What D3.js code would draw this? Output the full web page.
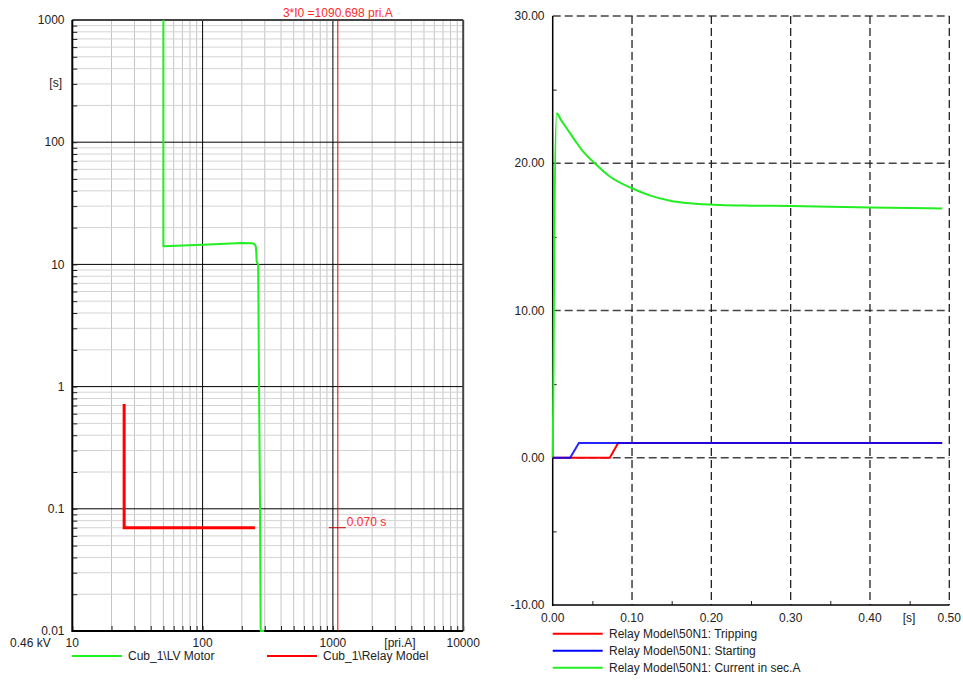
<!DOCTYPE html>
<html><head><meta charset="utf-8">
<script src="https://cdn.jsdelivr.net/npm/d3@7"></script>
<style>
body{margin:0;background:#fff}
text{font-family:"Liberation Sans",Arial,sans-serif;font-size:12px;fill:#222}
</style>
</head><body>
<svg id="c" width="963" height="682"></svg>
<script>
// ---------- Left chart data (time-overcurrent, log-log) ----------
const leftXTicks = [10, 100, 1000, 10000];
const leftXTickLabels = ["10", "100", "1000", "10000"];
const leftYTicks = [0.01, 0.1, 1, 10, 100, 1000];
const leftYTickLabels = ["0.01", "0.1", "1", "10", "100", "1000"];
const motorCurrent = [50, 50, 100, 200, 240, 252, 256, 258, 260, 267, 271, 276, 279, 297];
const motorTime    = [1000, 14.1, 14.5, 15.0, 14.9, 14.6, 14.0, 12.8, 10.5, 10, 1, 0.1, 0.01, 0.01];
const relayCurrent = [25, 25, 252];
const relayTime    = [0.72, 0.07, 0.07];
const markerCurrent = 1090.698;
const markerTime = 0.070;
const leftLegend = ["Cub_1\\LV Motor", "Cub_1\\Relay Model"];

// ---------- Right chart data (time domain) ----------
const rightXTicks = [0, 0.1, 0.2, 0.3, 0.4, 0.5];
const rightYTicks = [-10, 0, 10, 20, 30];
const currentT = [0, 0.001, 0.002, 0.005, 0.01, 0.015, 0.022, 0.03, 0.039, 0.053, 0.072, 0.1, 0.123, 0.148, 0.173, 0.211, 0.25, 0.3, 0.35, 0.4, 0.45, 0.491];
const currentV = [0, 6, 15, 23.4, 22.98, 22.58, 22.03, 21.4, 20.75, 20.0, 19.1, 18.3, 17.8, 17.46, 17.28, 17.16, 17.12, 17.1, 17.05, 17.0, 16.96, 16.92];
const startT = [0, 0.022, 0.033, 0.491];
const startV = [0, 0, 1, 1];
const tripT = [0, 0.072, 0.0825, 0.491];
const tripV = [0, 0, 1, 1];
const rightLegend = ["Relay Model\\50N1: Tripping", "Relay Model\\50N1: Starting", "Relay Model\\50N1: Current in sec.A"];

const svg = d3.select("#c");

// ================= LEFT =================
const L = {x0: 72.3, x1: 463.2, y0: 631, y1: 20};
const lx = d3.scaleLog().domain([10, 10000]).range([L.x0, L.x1]);
const ly = d3.scaleLog().domain([0.01, 1000]).range([L.y0, L.y1]);
const gl = svg.append("g");

const minorX = [], minorY = [];
for (let d = 10; d < 10000; d *= 10) for (let k = 2; k <= 9; k++) minorX.push(d * k);
for (let d = 0.01; d < 999; d *= 10) for (let k = 2; k <= 9; k++) minorY.push(+(d * k).toPrecision(3));

gl.selectAll(".mx").data(minorX).join("line")
  .attr("x1", d => lx(d)).attr("x2", d => lx(d)).attr("y1", L.y1).attr("y2", L.y0)
  .attr("stroke", "#c4c4c4").attr("stroke-width", 1);
gl.selectAll(".my").data(minorY).join("line")
  .attr("y1", d => ly(d)).attr("y2", d => ly(d)).attr("x1", L.x0).attr("x2", L.x1)
  .attr("stroke", "#d4d4d4").attr("stroke-width", 1);
gl.selectAll(".Mx").data(leftXTicks.slice(1, 3)).join("line")
  .attr("x1", d => lx(d)).attr("x2", d => lx(d)).attr("y1", L.y1).attr("y2", L.y0)
  .attr("stroke", "#000").attr("stroke-width", 1);
gl.selectAll(".My").data(leftYTicks.slice(1, 5)).join("line")
  .attr("y1", d => ly(d)).attr("y2", d => ly(d)).attr("x1", L.x0).attr("x2", L.x1)
  .attr("stroke", "#000").attr("stroke-width", 1);

// axes with inward minor ticks
const yAx = d3.axisRight(ly).tickValues(minorY.concat(leftYTicks)).tickSize(5).tickFormat("");
gl.append("g").attr("transform", `translate(${L.x0},0)`).call(yAx)
  .call(g => g.selectAll("line").attr("stroke", "#222"))
  .call(g => g.select(".domain").remove());
const xAx = d3.axisTop(lx).tickValues(minorX.concat(leftXTicks)).tickSize(5).tickFormat("");
gl.append("g").attr("transform", `translate(0,${L.y0})`).call(xAx)
  .call(g => g.selectAll("line").attr("stroke", "#222"))
  .call(g => g.select(".domain").remove());

// tick labels
gl.selectAll(".yl").data(leftYTicks).join("text")
  .attr("x", 64.5).attr("y", d => ly(d)).attr("dy", "0.35em").attr("text-anchor", "end")
  .text((d, i) => leftYTickLabels[i]);
gl.append("text").attr("x", 62).attr("y", 83).attr("dy", "0.35em").attr("text-anchor", "end").text("[s]");
gl.selectAll(".xl").data(leftXTicks).join("text")
  .attr("x", d => lx(d)).attr("y", 647).attr("text-anchor", "middle")
  .text((d, i) => leftXTickLabels[i]);
gl.append("text").attr("x", 400).attr("y", 647).attr("text-anchor", "middle").text("[pri.A]");
gl.append("text").attr("x", 10).attr("y", 647).text("0.46 kV");

// borders
gl.append("line").attr("x1", L.x0).attr("x2", L.x1).attr("y1", L.y1).attr("y2", L.y1).attr("stroke", "#444").attr("stroke-width", 2);
gl.append("line").attr("x1", L.x1).attr("x2", L.x1).attr("y1", L.y1).attr("y2", L.y0).attr("stroke", "#444").attr("stroke-width", 2);
gl.append("line").attr("x1", L.x0).attr("x2", L.x0).attr("y1", L.y1).attr("y2", L.y0 + 1).attr("stroke", "#000").attr("stroke-width", 2);
gl.append("line").attr("x1", L.x0).attr("x2", L.x1).attr("y1", L.y0).attr("y2", L.y0).attr("stroke", "#000").attr("stroke-width", 2);

// marker line
gl.append("line").attr("x1", lx(markerCurrent)).attr("x2", lx(markerCurrent)).attr("y1", L.y1).attr("y2", L.y0)
  .attr("stroke", "#e00000").attr("stroke-width", 1);
gl.append("text").attr("x", lx(markerCurrent)).attr("y", 17).attr("text-anchor", "middle")
  .style("fill", "#ff2a2a").text("3*I0 =" + markerCurrent.toFixed(3) + " pri.A");
gl.append("line").attr("x1", lx(markerCurrent) - 9).attr("x2", lx(markerCurrent) + 8)
  .attr("y1", ly(markerTime)).attr("y2", ly(markerTime)).attr("stroke", "#c00000").attr("stroke-width", 1);
gl.append("text").attr("x", lx(markerCurrent) + 9).attr("y", ly(markerTime) - 2)
  .style("fill", "#ff2a2a").text(markerTime.toFixed(3) + " s");

// curves
const lline = d3.line().x(d => lx(d[0])).y(d => ly(d[1]));
gl.append("path").datum(relayCurrent.map((c, i) => [c, relayTime[i]])).attr("d", lline)
  .attr("fill", "none").attr("stroke", "#ff0000").attr("stroke-width", 3);
gl.append("path").datum(motorCurrent.map((c, i) => [c, motorTime[i]])).attr("d", lline)
  .attr("fill", "none").attr("stroke", "#22ee22").attr("stroke-width", 2).attr("stroke-linejoin", "round");

// legend
const legColL = ["#22ee22", "#ff0000"];
const legX = [72, 267];
leftLegend.forEach((t, i) => {
  gl.append("line").attr("x1", legX[i]).attr("x2", legX[i] + 50).attr("y1", 656).attr("y2", 656)
    .attr("stroke", legColL[i]).attr("stroke-width", 2);
  gl.append("text").attr("x", legX[i] + 56).attr("y", 656).attr("dy", "0.35em").text(t);
});

// ================= RIGHT =================
const R = {x0: 552.7, x1: 949.3, y0: 605, y1: 16};
const rx = d3.scaleLinear().domain([0, 0.5]).range([R.x0, R.x1]);
const ry = d3.scaleLinear().domain([-10, 30]).range([R.y0, R.y1]);
const gr = svg.append("g");

gr.selectAll(".gy").data(rightYTicks.filter(d => d > -10)).join("line")
  .attr("x1", R.x0).attr("x2", R.x1).attr("y1", d => ry(d)).attr("y2", d => ry(d))
  .attr("stroke", "#444").attr("stroke-width", 1.3).attr("stroke-dasharray", "8,4");
gr.selectAll(".gx").data(rightXTicks.filter(d => d > 0)).join("line")
  .attr("x1", d => rx(d)).attr("x2", d => rx(d)).attr("y1", R.y1).attr("y2", R.y0)
  .attr("stroke", "#222").attr("stroke-width", 1.3).attr("stroke-dasharray", "8,4");

// minor ticks
gr.append("g").attr("transform", `translate(${R.x0},0)`)
  .call(d3.axisRight(ry).tickValues([-5, 5, 15, 25]).tickSize(4).tickFormat(""))
  .call(g => g.select(".domain").remove()).call(g => g.selectAll("line").attr("stroke", "#222"));
gr.append("g").attr("transform", `translate(0,${R.y0})`)
  .call(d3.axisTop(rx).tickValues([0.05, 0.15, 0.25, 0.35, 0.45]).tickSize(4).tickFormat(""))
  .call(g => g.select(".domain").remove()).call(g => g.selectAll("line").attr("stroke", "#222"));

// axis lines
gr.append("line").attr("x1", R.x0).attr("x2", R.x0).attr("y1", R.y1).attr("y2", R.y0 + 1).attr("stroke", "#000").attr("stroke-width", 1.5);
gr.append("line").attr("x1", R.x0).attr("x2", R.x1).attr("y1", R.y0).attr("y2", R.y0).attr("stroke", "#000").attr("stroke-width", 1.5);

// labels
gr.selectAll(".ryl").data(rightYTicks).join("text")
  .attr("x", 544.5).attr("y", d => ry(d)).attr("dy", "0.35em").attr("text-anchor", "end")
  .text(d => d.toFixed(2));
gr.selectAll(".rxl").data(rightXTicks).join("text")
  .attr("x", d => rx(d)).attr("y", 622).attr("text-anchor", "middle")
  .text(d => d.toFixed(2));
gr.append("text").attr("x", 909).attr("y", 622).attr("text-anchor", "middle").text("[s]");

// series
const rline = d3.line().x(d => rx(d[0])).y(d => ry(d[1]));
gr.append("path").datum(currentT.map((t, i) => [t, currentV[i]]))
  .attr("d", d3.line().x(d => rx(d[0])).y(d => ry(d[1])).curve(d3.curveMonotoneX))
  .attr("fill", "none").attr("stroke", "#22ee22").attr("stroke-width", 2);
gr.append("path").datum(tripT.map((t, i) => [t, tripV[i]])).attr("d", rline)
  .attr("fill", "none").attr("stroke", "#ff0000").attr("stroke-width", 2);
gr.append("path").datum(startT.map((t, i) => [t, startV[i]])).attr("d", rline)
  .attr("fill", "none").attr("stroke", "#0000ff").attr("stroke-width", 2).attr("stroke-opacity", 0.85);

// legend
const legColR = ["#ff0000", "#0000ff", "#22ee22"];
const legY = [633.7, 650.7, 667.7];
rightLegend.forEach((t, i) => {
  gr.append("line").attr("x1", 552.7).attr("x2", 602.7).attr("y1", legY[i]).attr("y2", legY[i])
    .attr("stroke", legColR[i]).attr("stroke-width", 2);
  gr.append("text").attr("x", 609).attr("y", legY[i]).attr("dy", "0.35em").text(t);
});
</script>
</body></html>
